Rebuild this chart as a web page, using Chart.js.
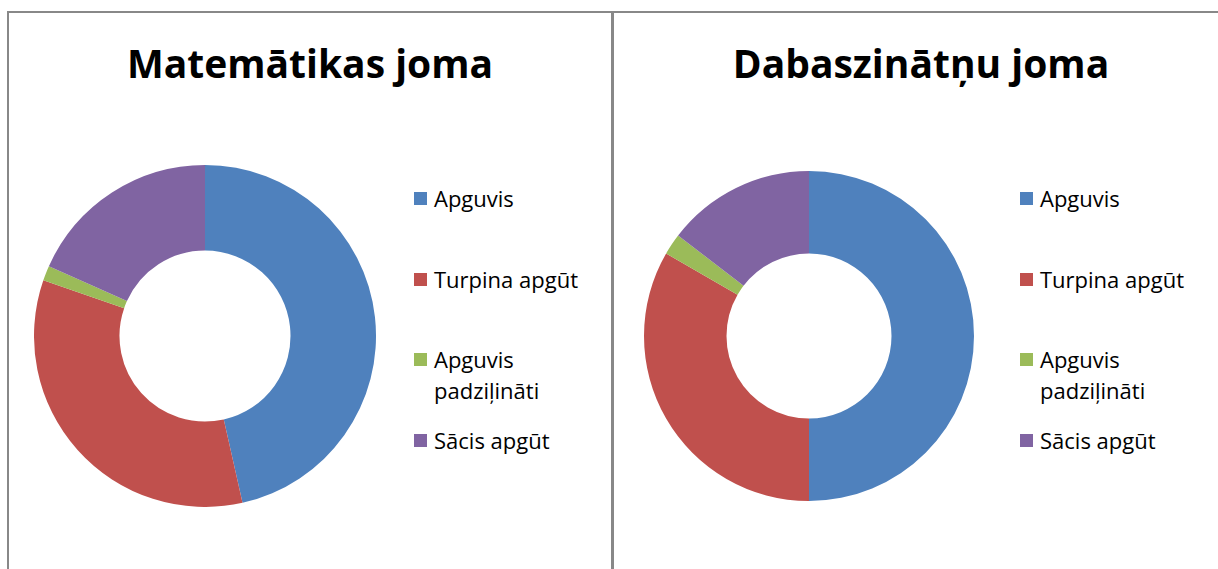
<!DOCTYPE html>
<html lang="lv">
<head>
    <meta charset="UTF-8">
    <title>Matemātikas un dabaszinātņu joma</title>
    <script src="https://cdn.jsdelivr.net/npm/chart.js"></script>
    <style>
        body {
            margin: 0;
            width: 1218px;
            height: 569px;
            overflow: hidden;
            background: #ffffff;
            font-family: "Open Sans", Lato, sans-serif;
            position: relative;
        }
        .panel {
            position: absolute;
            top: 11px;
            height: 600px;
            box-sizing: border-box;
            border-top: 2px solid #888888;
        }
        #panel-left {
            left: 7px;
            width: 607px;
            border-left: 2px solid #888888;
            border-right: 3px solid #888888;
        }
        #panel-right {
            left: 614px;
            width: 614px;
        }
        .title {
            position: absolute;
            left: 0;
            right: 0;
            top: 30px;
            text-align: center;
            font-weight: bold;
            font-size: 39px;
            line-height: 39px;
            color: #000000;
        }
        .legend {
            position: absolute;
            top: 170px;
            width: 185px;
        }
        .legend-item {
            display: flex;
            align-items: flex-start;
            height: 80.67px;
            font-size: 22px;
            line-height: 31px;
            color: #000000;
        }
        .legend-box {
            width: 13px;
            height: 13px;
            margin-top: 9px;
            margin-right: 7px;
            flex: none;
        }
        .legend-text {
            width: 160px;
        }
        canvas {
            position: absolute;
        }
    </style>
</head>
<body>
    <div class="panel" id="panel-left">
        <div class="title" id="title-left"></div>
        <div class="legend" id="legend-left" style="left: 405px;"></div>
    </div>
    <div class="panel" id="panel-right">
        <div class="title" id="title-right"></div>
        <div class="legend" id="legend-right" style="left: 406px;"></div>
    </div>
    <canvas id="chart-left" width="342" height="342" style="left: 34px; top: 165px;"></canvas>
    <canvas id="chart-right" width="330" height="330" style="left: 644px; top: 171px;"></canvas>

    <script>
        const categories = ['Apguvis', 'Turpina apgūt', 'Apguvis padziļināti', 'Sācis apgūt'];
        const colors = ['#4F81BD', '#C0504D', '#9BBB59', '#8064A2'];

        const matematikaTitle = 'Matemātikas joma';
        const matematikaValues = [33, 24, 1, 13];

        const dabaszinatnesTitle = 'Dabaszinātņu joma';
        const dabaszinatnesValues = [24, 16, 1, 7];

        function buildLegend(id) {
            const legend = document.getElementById(id);
            categories.forEach((label, i) => {
                const item = document.createElement('div');
                item.className = 'legend-item';
                const box = document.createElement('span');
                box.className = 'legend-box';
                box.style.backgroundColor = colors[i];
                const text = document.createElement('span');
                text.className = 'legend-text';
                text.textContent = label;
                item.appendChild(box);
                item.appendChild(text);
                legend.appendChild(item);
            });
        }

        function makeDoughnut(canvasId, values) {
            return new Chart(document.getElementById(canvasId), {
                type: 'doughnut',
                data: {
                    labels: categories,
                    datasets: [{
                        data: values,
                        backgroundColor: colors,
                        borderWidth: 0,
                        hoverOffset: 0
                    }]
                },
                options: {
                    responsive: false,
                    animation: false,
                    cutout: '50%',
                    layout: { padding: 0 },
                    plugins: {
                        legend: { display: false },
                        title: { display: false },
                        tooltip: { enabled: false }
                    }
                }
            });
        }

        document.getElementById('title-left').textContent = matematikaTitle;
        document.getElementById('title-right').textContent = dabaszinatnesTitle;
        buildLegend('legend-left');
        buildLegend('legend-right');
        makeDoughnut('chart-left', matematikaValues);
        makeDoughnut('chart-right', dabaszinatnesValues);
    </script>
</body>
</html>
